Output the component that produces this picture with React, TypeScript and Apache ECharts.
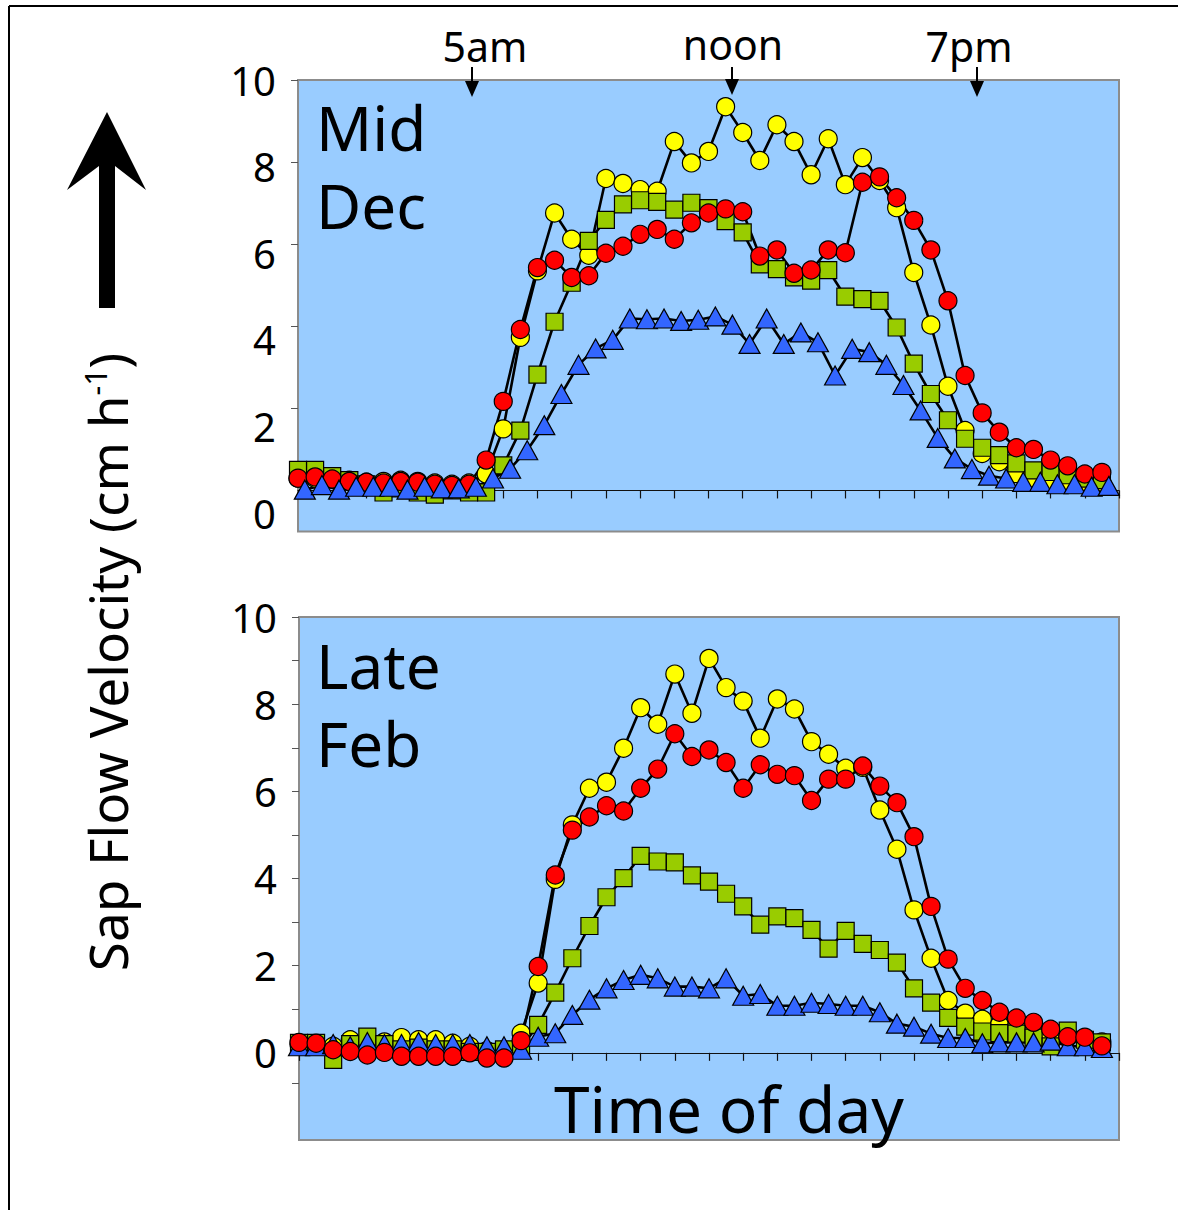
import React, { useEffect, useRef } from 'react';
import * as echarts from 'echarts';

// Measurement times (hours after midnight), every half hour
const halfHours = [0, 0.5, 1, 1.5, 2, 2.5, 3, 3.5, 4, 4.5, 5, 5.5, 6, 6.5, 7, 7.5, 8, 8.5, 9, 9.5, 10, 10.5, 11, 11.5,
  12, 12.5, 13, 13.5, 14, 14.5, 15, 15.5, 16, 16.5, 17, 17.5, 18, 18.5, 19, 19.5, 20, 20.5, 21, 21.5, 22, 22.5, 23, 23.5];
// The triangle logger in mid December was read a few minutes later
const decTriangleHours = [0.2, 0.7, 1.2, 1.7, 2.2, 2.7, 3.2, 3.7, 4.2, 4.7, 5.2, 5.7, 6.2, 6.7, 7.2, 7.7, 8.2, 8.7, 9.2, 9.7, 10.2, 10.7, 11.2, 11.7,
  12.2, 12.7, 13.2, 13.7, 14.2, 14.7, 15.2, 15.7, 16.2, 16.7, 17.2, 17.7, 18.2, 18.7, 19.2, 19.7, 20.2, 20.7, 21.2, 21.7, 22.2, 22.7, 23.2, 23.7];

// Mid Dec
const decYellow = [0.3, 0.3, 0.28, 0.25, 0.2, 0.22, 0.25, 0.22, 0.18, 0.15, 0.18, 0.4, 1.5, 3.73, 5.35, 6.76, 6.12, 5.73, 7.6, 7.48, 7.33, 7.29, 8.5, 7.98,
  8.26, 9.35, 8.72, 8.04, 8.91, 8.5, 7.69, 8.57, 7.45, 8.11, 7.55, 6.89, 5.31, 4.03, 2.54, 1.46, 0.9, 0.7, 0.41, 0.3, 0.25, 0.22, 0.2, 0.2];
const decGreen = [0.5, 0.5, 0.35, 0.25, 0.15, -0.05, 0.05, -0.05, -0.1, 0.0, -0.05, -0.05, 0.61, 1.46, 2.82, 4.11, 5.06, 6.08, 6.59, 6.97, 7.07, 7.03, 6.84, 7.01,
  6.88, 6.56, 6.29, 5.51, 5.39, 5.19, 5.11, 5.37, 4.72, 4.66, 4.62, 3.97, 3.09, 2.35, 1.71, 1.26, 1.04, 0.86, 0.66, 0.49, 0.45, 0.37, 0.29, 0.25];
const decRed = [0.3, 0.33, 0.28, 0.22, 0.2, 0.18, 0.22, 0.2, 0.15, 0.12, 0.15, 0.74, 2.17, 3.92, 5.43, 5.61, 5.19, 5.23, 5.78, 5.95, 6.24, 6.36, 6.12, 6.52,
  6.76, 6.86, 6.79, 5.71, 5.86, 5.29, 5.37, 5.86, 5.79, 7.51, 7.64, 7.13, 6.58, 5.86, 4.62, 2.8, 1.89, 1.42, 1.04, 1.0, 0.74, 0.6, 0.4, 0.44];
const decBlue = [0.02, 0.13, 0.02, 0.09, 0.09, 0.09, 0.02, 0.09, 0.05, 0.05, 0.09, 0.29, 0.53, 0.98, 1.59, 2.35, 3.06, 3.46, 3.67, 4.19, 4.17, 4.19, 4.13, 4.16,
  4.24, 4.04, 3.57, 4.19, 3.57, 3.85, 3.61, 2.8, 3.45, 3.37, 3.06, 2.57, 1.95, 1.28, 0.78, 0.52, 0.36, 0.29, 0.21, 0.21, 0.15, 0.15, 0.09, 0.11];

// Late Feb
const febYellow = [0.2, 0.2, 0.15, 0.3, 0.2, 0.25, 0.35, 0.3, 0.3, 0.22, 0.15, 0.05, 0.05, 0.45, 1.6, 3.98, 5.23, 6.07, 6.21, 6.99, 7.92, 7.54, 8.69, 7.79,
  9.05, 8.38, 8.07, 7.22, 8.12, 7.89, 7.14, 6.85, 6.53, 6.55, 5.57, 4.67, 3.28, 2.17, 1.2, 0.91, 0.77, 0.64, 0.6, 0.5, 0.4, 0.35, 0.3, 0.25];
const febGreen = [0.23, 0.23, -0.16, 0.2, 0.37, 0.2, 0.08, 0.12, 0.08, 0.08, 0.02, 0.02, 0.08, 0.12, 0.64, 1.38, 2.17, 2.91, 3.57, 4.01, 4.52, 4.39, 4.37, 4.07,
  3.93, 3.65, 3.36, 2.94, 3.13, 3.09, 2.82, 2.39, 2.8, 2.5, 2.36, 2.07, 1.48, 1.15, 0.8, 0.6, 0.49, 0.45, 0.44, 0.35, 0.15, 0.51, 0.3, 0.24];
const febRed = [0.24, 0.22, 0.07, 0.03, -0.05, 0.01, -0.08, -0.08, -0.08, -0.08, 0.0, -0.12, -0.12, 0.28, 1.98, 4.08, 5.11, 5.41, 5.67, 5.55, 6.07, 6.51, 7.32, 6.8,
  6.95, 6.66, 6.07, 6.61, 6.39, 6.36, 5.79, 6.28, 6.28, 6.58, 6.12, 5.74, 4.96, 3.36, 2.15, 1.48, 1.2, 0.93, 0.8, 0.7, 0.54, 0.37, 0.36, 0.16];
const febBlue = [0.15, 0.15, 0.2, 0.15, 0.25, 0.2, 0.2, 0.25, 0.2, 0.2, 0.2, 0.15, 0.15, 0.07, 0.37, 0.45, 0.87, 1.22, 1.48, 1.67, 1.79, 1.71, 1.52, 1.52,
  1.48, 1.71, 1.31, 1.35, 1.08, 1.08, 1.15, 1.12, 1.08, 1.08, 0.93, 0.67, 0.6, 0.44, 0.34, 0.34, 0.22, 0.24, 0.24, 0.24, 0.28, 0.15, 0.15, 0.11];

const yTickLabels = [0, 2, 4, 6, 8, 10];
const decTicks = [2, 4, 6, 8, 10];
const febTicks = [-0.7, 1, 2, 3, 4, 5, 6, 7, 8, 9, 10];

const FONT = 'Noto Sans';
const YELLOW = '#FFFF00';
const GREEN = '#99CC00';
const RED = '#FF0000';
const BLUE = '#3366FF';

function makeSeries(name: string, xi: number, yi: number, times: number[], values: number[], symbol: string, size: any, color: string) {
  return {
    name,
    type: 'line',
    xAxisIndex: xi,
    yAxisIndex: yi,
    data: values.map((v, i) => [times[i], v]),
    symbol,
    symbolSize: size,
    showAllSymbol: true,
    clip: false,
    lineStyle: { color: '#000', width: 2.6 },
    itemStyle: { color, borderColor: '#000', borderWidth: 1.2 },
    emphasis: { disabled: true },
  };
}

function xAxisFor(gridIndex: number) {
  return {
    gridIndex,
    type: 'value',
    min: 0,
    max: 24,
    interval: 1,
    axisLine: { onZero: true, lineStyle: { color: '#111', width: 1.2 } },
    axisTick: { show: true, length: 8, lineStyle: { color: '#111', width: 1.2 } },
    axisLabel: { show: false },
    splitLine: { show: false },
  };
}

function downArrow(x: number, tipY: number) {
  return [
    { type: 'line', shape: { x1: x, y1: 67, x2: x, y2: tipY - 12 }, style: { stroke: '#000', lineWidth: 2 } },
    { type: 'polygon', shape: { points: [[x - 7, tipY - 16], [x + 7, tipY - 16], [x, tipY]] }, style: { fill: '#000' } },
  ];
}

export default function App() {
  const ref = useRef<HTMLDivElement>(null);
  useEffect(() => {
    if (!ref.current) return;
    const chart = echarts.init(ref.current, null, { renderer: 'svg' });
    const option: any = {
      animation: false,
      backgroundColor: '#fff',
      grid: [
        { left: 298, top: 80, width: 821, height: 451.5, show: true, backgroundColor: '#99CCFF', borderColor: '#8c8c8c', borderWidth: 2, containLabel: false, outerBoundsMode: 'none' },
        { left: 299, top: 617, width: 820, height: 523, show: true, backgroundColor: '#99CCFF', borderColor: '#8c8c8c', borderWidth: 2, containLabel: false, outerBoundsMode: 'none' },
      ],
      xAxis: [xAxisFor(0), xAxisFor(1)],
      yAxis: [
        {
          gridIndex: 0, type: 'value', position: 'left', min: -1, max: 10, interval: 1,
          axisLine: { show: false },
          axisTick: { show: true, length: 7, customValues: decTicks, lineStyle: { color: '#555' } },
          axisLabel: { show: false },
          splitLine: { show: false },
        },
        {
          gridIndex: 0, type: 'value', position: 'left', offset: 0, min: -0.427, max: 10,
          axisLine: { show: false },
          axisTick: { show: false },
          axisLabel: { show: true, customValues: yTickLabels, margin: 22, color: '#000', fontSize: 40, fontFamily: FONT },
          splitLine: { show: false },
        },
        {
          gridIndex: 1, type: 'value', position: 'left', min: -2, max: 10, interval: 1,
          axisLine: { show: false },
          axisTick: { show: true, length: 7, customValues: febTicks, lineStyle: { color: '#555' } },
          axisLabel: { show: true, customValues: yTickLabels, margin: 22, color: '#000', fontSize: 40, fontFamily: FONT },
          splitLine: { show: false },
        },
      ],
      series: [
        makeSeries('Dec yellow', 0, 0, halfHours, decYellow, 'circle', 18, YELLOW),
        makeSeries('Dec green', 0, 0, halfHours, decGreen, 'rect', 17, GREEN),
        makeSeries('Dec red', 0, 0, halfHours, decRed, 'circle', 18, RED),
        makeSeries('Dec blue', 0, 0, decTriangleHours, decBlue, 'triangle', [21, 19], BLUE),
        makeSeries('Feb yellow', 1, 2, halfHours, febYellow, 'circle', 18, YELLOW),
        makeSeries('Feb green', 1, 2, halfHours, febGreen, 'rect', 17, GREEN),
        makeSeries('Feb blue', 1, 2, halfHours, febBlue, 'triangle', [21, 19], BLUE),
        makeSeries('Feb red', 1, 2, halfHours, febRed, 'circle', 18, RED),
      ],
      graphic: [
        { type: 'line', shape: { x1: 9, y1: 6, x2: 1178, y2: 6 }, style: { stroke: '#000', lineWidth: 2 } },
        { type: 'line', shape: { x1: 9, y1: 6, x2: 9, y2: 1210 }, style: { stroke: '#000', lineWidth: 2 } },
        {
          type: 'polygon',
          shape: { points: [[107, 112], [146, 190], [115, 166], [115, 308], [99, 308], [99, 166], [67, 190]] },
          style: { fill: '#000' },
        },
        {
          type: 'text', x: 107, y: 662, rotation: Math.PI / 2,
          style: {
            text: '{a|Sap Flow Velocity (cm h}{s|-1}{a|)}',
            textAlign: 'center', textVerticalAlign: 'middle',
            rich: {
              a: { fontSize: 53, fontFamily: FONT, fill: '#000' },
              s: { fontSize: 30, fontFamily: FONT, fill: '#000', verticalAlign: 'top', padding: [0, 0, 22, 0] },
            },
          },
        },
        { type: 'text', x: 485, y: 46, style: { text: '5am', fontSize: 41, fontFamily: FONT, fill: '#000', textAlign: 'center', textVerticalAlign: 'middle' } },
        { type: 'text', x: 733, y: 44, style: { text: 'noon', fontSize: 41, fontFamily: FONT, fill: '#000', textAlign: 'center', textVerticalAlign: 'middle' } },
        { type: 'text', x: 969, y: 46, style: { text: '7pm', fontSize: 41, fontFamily: FONT, fill: '#000', textAlign: 'center', textVerticalAlign: 'middle' } },
        ...downArrow(472, 97),
        ...downArrow(732, 95),
        ...downArrow(977, 97),
        { type: 'text', x: 316, y: 88, style: { text: 'Mid\nDec', fontSize: 62, lineHeight: 78, fontFamily: FONT, fill: '#000', textAlign: 'left', textVerticalAlign: 'top' } },
        { type: 'text', x: 316, y: 626, style: { text: 'Late\nFeb', fontSize: 62, lineHeight: 78, fontFamily: FONT, fill: '#000', textAlign: 'left', textVerticalAlign: 'top' } },
        { type: 'text', x: 729, y: 1108, style: { text: 'Time of day', fontSize: 64, fontFamily: FONT, fill: '#000', textAlign: 'center', textVerticalAlign: 'middle' } },
      ],
    };
    chart.setOption(option);
    return () => chart.dispose();
  }, []);
  return <div ref={ref} style={{ position: 'fixed', left: 0, top: 0, width: 1178, height: 1210 }} />;
}
